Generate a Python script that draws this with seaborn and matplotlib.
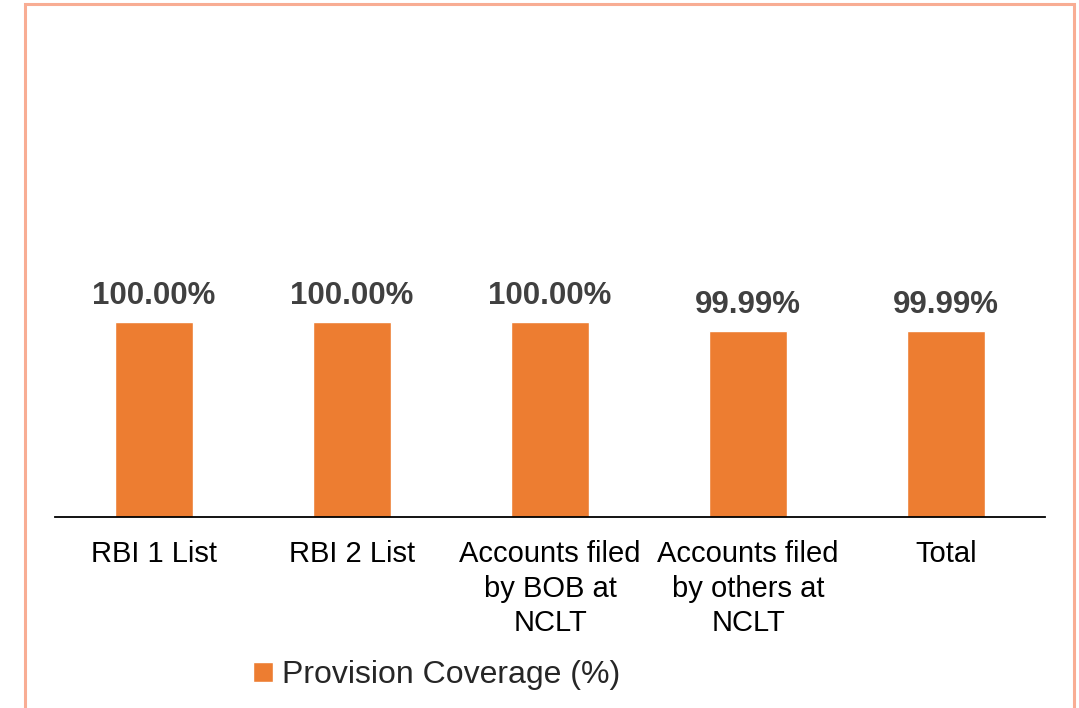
import matplotlib
matplotlib.use('Agg')
import matplotlib.pyplot as plt
from matplotlib.patches import Rectangle
import seaborn as sns
import pandas as pd

# 数据
categories = ['RBI 1 List', 'RBI 2 List', 'Accounts filed\nby BOB at\nNCLT',
              'Accounts filed\nby others at\nNCLT', 'Total']
coverage = [100.00, 100.00, 100.00, 99.99, 99.99]
series_name = 'Provision Coverage (%)'

df = pd.DataFrame({'category': categories, 'value': coverage})

sns.set_style('white')
plt.rcParams['font.family'] = ['Liberation Sans', 'DejaVu Sans']

fig = plt.figure(figsize=(10.79, 7.08), dpi=100)
ax = fig.add_axes([0.051, 0.27, 0.9175, 0.675])

sns.barplot(data=df, x='category', y='value', color='#ED7D31', width=0.39,
            saturation=1, ax=ax)

# 数据标签
ax.bar_label(ax.containers[0], labels=[f'{v:.2f}%' for v in coverage],
             padding=8, fontsize=22.5, fontweight='bold', color='#404040')

ax.set_ylim(99.7833, 100.314)
ax.set_xlim(-0.5, 4.5)
ax.set_yticks([])
ax.set_xlabel('')
ax.set_ylabel('')
for s in ['top', 'right', 'left']:
    ax.spines[s].set_visible(False)
ax.spines['bottom'].set_color('black')
ax.spines['bottom'].set_linewidth(1.3)
ax.tick_params(axis='x', length=0, pad=17, labelsize=21, colors='black')
for t in ax.get_xticklabels():
    t.set_linespacing(1.28)

# 图例
fig.legend(handles=ax.containers[0][:1], labels=[series_name], loc='center',
           bbox_to_anchor=(0.405, 0.046), frameon=False, fontsize=23,
           handlelength=0.6, handleheight=0.6, handletextpad=0.3)

# 外框
fig.patches.append(Rectangle((0.0232, -0.1), 0.9722, 1.0944, transform=fig.transFigure,
                             fill=False, edgecolor='#F8AD94', linewidth=2.2))

plt.savefig('out.png', dpi=100)
